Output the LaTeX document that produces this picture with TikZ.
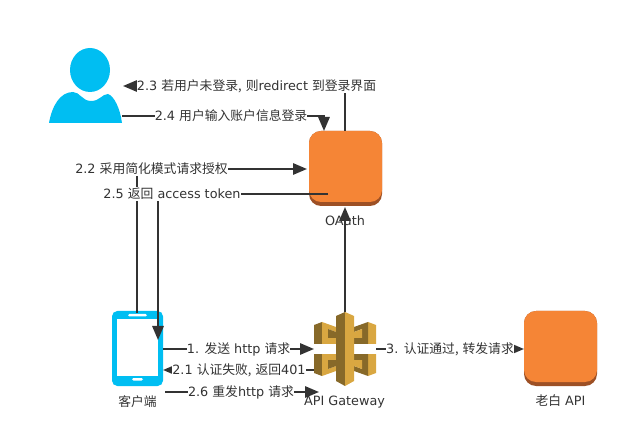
\documentclass[tikz,border=0pt]{standalone}
\usepackage{fontspec}
\setmainfont{DejaVu Sans}
\newfontfamily\cjk{Noto Sans CJK SC}
\usetikzlibrary{arrows.meta}
\definecolor{ink}{HTML}{333333}
\definecolor{sky}{HTML}{00BEF2}
\definecolor{org}{HTML}{F58536}
\definecolor{orgd}{HTML}{9D5025}
\definecolor{gl}{HTML}{D9A741}
\definecolor{gd}{HTML}{876929}
\tikzset{
 x=0.75pt,y=-0.75pt,
 lbl/.style={font=\fontsize{9.6}{11}\selectfont,text=ink,inner sep=0pt,outer sep=0pt,fill=white,minimum height=14*0.75pt},
 captxt/.style={font=\fontsize{9.6}{11}\selectfont,text=ink,inner sep=0pt},
 conn/.style={draw=ink,line width=1.5pt,-{Triangle[length=10.5pt,width=8.5pt]}},
 boxarea/.style={inner sep=0pt,minimum width=54.75pt,minimum height=56.25pt},
 anchorpt/.style={inner sep=0pt,minimum size=0pt}
}
\newcommand{\orangebox}[2]{%
 \fill[orgd,rounded corners=9pt] (#1,#2) rectangle ++(73,75);
 \fill[org,rounded corners=9pt] (#1,#2) rectangle ++(73,71);
}
\begin{document}
\begin{tikzpicture}
\useasboundingbox (0,0) rectangle (629,424);
% user
\fill[sky] (90,70) ellipse [x radius=20, y radius=22];
\fill[sky] (49,123) .. controls (52,106) and (60,92) .. (73,92) .. controls (80,92) and (82,101) .. (91,101) .. controls (100,101) and (102,94) .. (108,94) .. controls (114,96) and (120,108) .. (122,123) -- cycle;
\node[anchorpt] (user) at (122,116) {};
% oauth box
\orangebox{309}{131}
\node[boxarea] (oauth) at (345.5,168) {};
% api box
\orangebox{524}{311}
\node[boxarea] (api) at (560.5,348) {};
% phone
\fill[sky,rounded corners=4pt] (112,311) rectangle (163,386);
\fill[white] (117,319) rectangle (158,376);
\fill[white,rounded corners=1pt] (128,314) rectangle (147,316.5);
\fill[white,rounded corners=1pt] (132,378) rectangle (143,380.5);
\node[inner sep=0pt,minimum width=38.25pt,minimum height=56.25pt] (phone) at (137.5,348.5) {};
% gateway
\fill[gd] (314,325) -- (322,322) -- (322,344) -- (314,344) -- cycle;
\fill[gl] (322,322) -- (336,327) -- (336,332) -- (328,329) -- (328,338) -- (336,338) -- (336,344) -- (322,344) -- cycle;
\fill[gd] (328,329) -- (336,332) -- (336,338) -- (328,338) -- cycle;
\fill[gl] (376,325) -- (368,322) -- (368,344) -- (376,344) -- cycle;
\fill[gd] (368,322) -- (354,327) -- (354,332) -- (362,329) -- (362,338) -- (354,338) -- (354,344) -- (368,344) -- cycle;
\fill[gl] (362,329) -- (354,332) -- (354,338) -- (362,338) -- cycle;
\fill[gd] (314,373) -- (322,376) -- (322,354) -- (314,354) -- cycle;
\fill[gl] (322,376) -- (336,371) -- (336,366) -- (328,369) -- (328,360) -- (336,360) -- (336,354) -- (322,354) -- cycle;
\fill[gd] (328,369) -- (336,366) -- (336,360) -- (328,360) -- cycle;
\fill[gl] (376,373) -- (368,376) -- (368,354) -- (376,354) -- cycle;
\fill[gd] (368,376) -- (354,371) -- (354,366) -- (362,369) -- (362,360) -- (354,360) -- (354,354) -- (368,354) -- cycle;
\fill[gl] (362,369) -- (354,366) -- (354,360) -- (362,360) -- cycle;
\fill[gd] (345,312) -- (336,316) -- (336,381) -- (345,386) -- cycle;
\fill[gl] (345,312) -- (354,316) -- (354,381) -- (345,386) -- cycle;
\node[inner sep=0pt,minimum width=46.5pt,minimum height=55.5pt] (gw) at (345,349) {};
% connectors
\coordinate (c23a) at (345,131);
\coordinate (c23b) at (345,86);
\coordinate (c23c) at (123,86);
\draw[conn] (c23a) -- (c23b) -- (c23c);
\coordinate (c24a) at (324,116);
\coordinate (c24b) at (324,131);
\draw[conn] (user) -- (c24a) -- (c24b);
\coordinate (c22a) at (137,313);
\coordinate (c22b) at (137,169);
\coordinate (c22c) at (307,169);
\draw[conn] (c22a) -- (c22b) -- (c22c);
\coordinate (c25a) at (328,194);
\coordinate (c25b) at (158,194);
\coordinate (c25c) at (158,340);
\draw[conn] (c25a) -- (c25b) -- (c25c);
\coordinate (c0a) at (345,312);
\coordinate (c0b) at (345,207);
\draw[conn] (c0a) -- (c0b);
\coordinate (c1a) at (163,349);
\coordinate (c1b) at (314,349);
\draw[conn] (c1a) -- (c1b);
\coordinate (c21a) at (314,370);
\coordinate (c21b) at (163,370);
\draw[conn] (c21a) -- (c21b);
\coordinate (c26a) at (165,392);
\coordinate (c26b) at (319,392);
\draw[conn] (c26a) -- (c26b);
\coordinate (c3a) at (376,349);
\coordinate (c3b) at (524,349);
\draw[conn] (c3a) -- (c3b);
% labels
\node[lbl] (l23) at (256.5,86) {2.3 {\cjk 若用户未登录,} {\cjk 则}redirect {\cjk 到登录界面}};
\node[lbl] (l24) at (231,116) {2.4 {\cjk 用户输入账户信息登录}};
\node[lbl] (l22) at (151.5,169) {2.2 {\cjk 采用简化模式请求授权}};
\node[lbl] (l25) at (172,194) {2.5 {\cjk 返回} access token};
\node[lbl] (l1) at (238.5,349) {1. {\cjk 发送} http {\cjk 请求}};
\node[lbl] (l21) at (239,370) {2.1 {\cjk 认证失败,} {\cjk 返回}401};
\node[lbl] (l26) at (241,392) {2.6 {\cjk 重发}http {\cjk 请求}};
\node[lbl] (l3) at (450,349) {3. {\cjk 认证通过,} {\cjk 转发请求}};
\node[captxt] (toauth) at (345,221) {OAuth};
\node[captxt] (tgw) at (344.5,402) {API Gateway};
\node[captxt] (tphone) at (137.5,402) {\cjk 客户端};
\node[captxt] (tapi) at (560.5,401) {{\cjk 老白} API};
\end{tikzpicture}
\end{document}
